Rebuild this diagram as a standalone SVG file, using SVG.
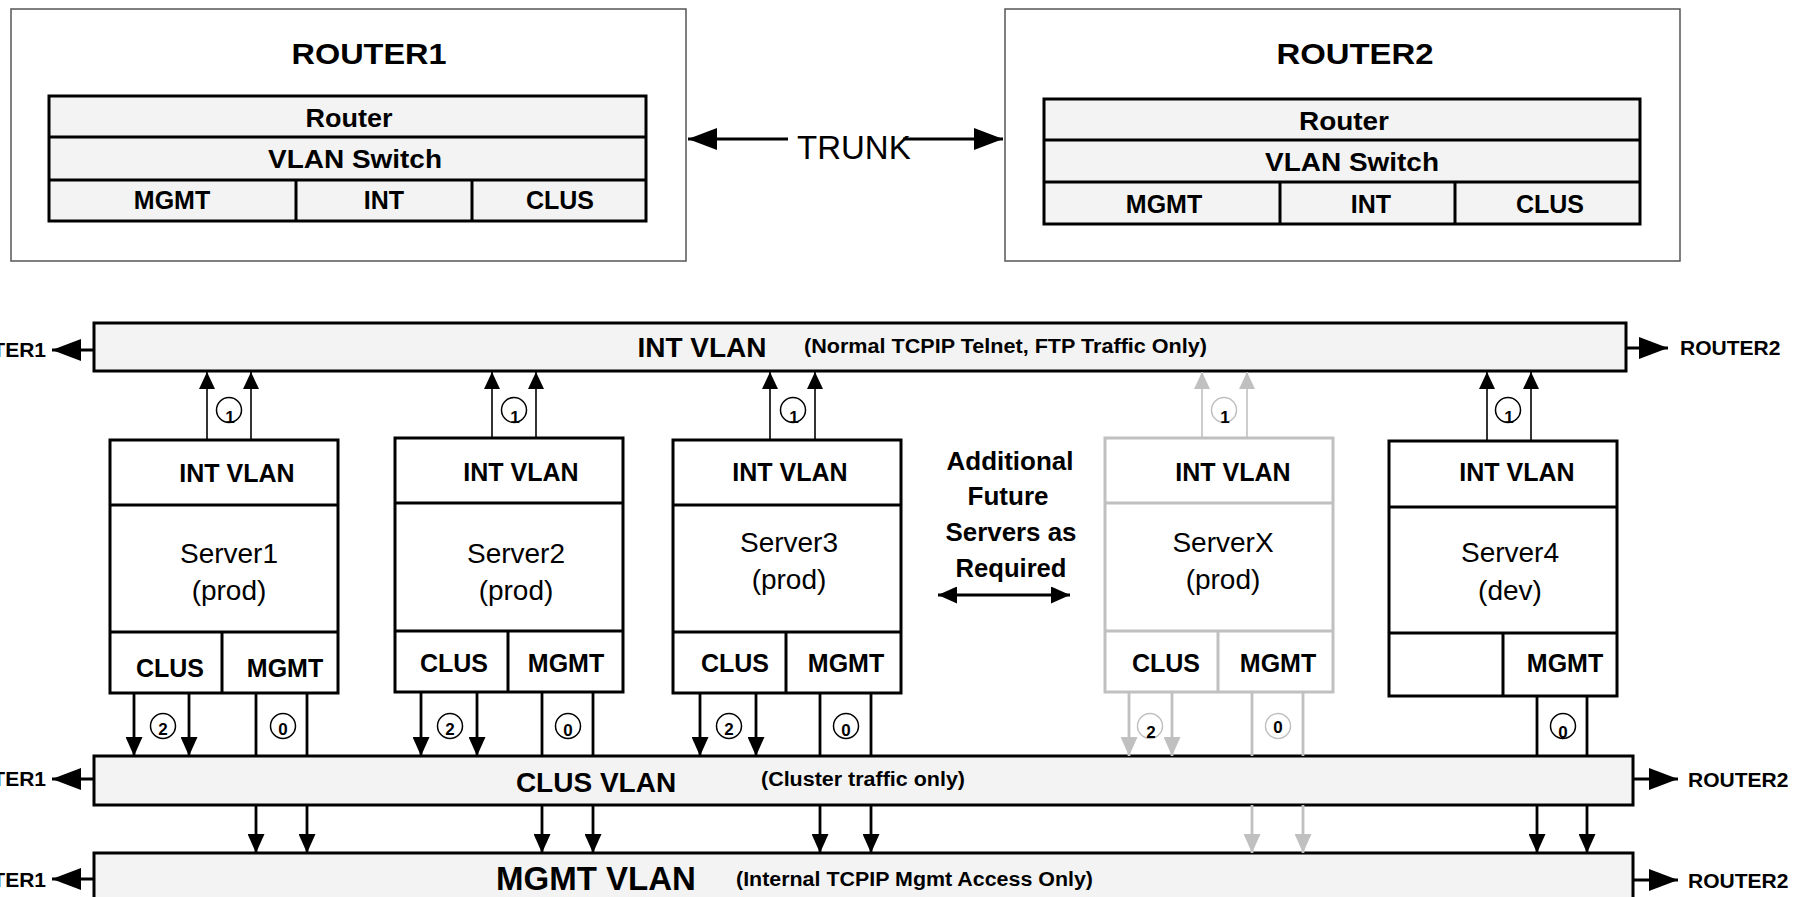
<svg xmlns="http://www.w3.org/2000/svg" width="1797" height="897" viewBox="0 0 1797 897">
<style>
  .outer{fill:#fff;stroke:#555;stroke-width:1.5}
  .tbl{fill:#f3f3f3;stroke:#000;stroke-width:3}
  .bar{fill:#f3f3f3;stroke:#000;stroke-width:3}
  .box{fill:#fff;stroke:#000;stroke-width:3}
  .gbox{fill:#fff;stroke:#c0c0c0;stroke-width:3}
  .ln{stroke:#000;stroke-width:3;fill:none}
  .gln{stroke:#c0c0c0;stroke-width:3;fill:none}
  .thin{stroke:#000;stroke-width:1.6;fill:none}
  .gthin{stroke:#c0c0c0;stroke-width:1.6;fill:none}
  .thick{stroke:#000;stroke-width:2.8;fill:none}
  .gthick{stroke:#c0c0c0;stroke-width:2.8;fill:none}
  .circ{fill:#fff;stroke:#000;stroke-width:1.5}
  .gcirc{fill:#fff;stroke:#c0c0c0;stroke-width:1.5}
  text{font-family:"Liberation Sans",Arial,sans-serif;fill:#000}
  .b{font-weight:bold;text-anchor:middle}
  .r{text-anchor:middle}
  .t25{font-size:25px}
  .t28{font-size:28px}
  .num{font-size:17px;font-weight:bold;text-anchor:middle}
  .side{font-size:21px;font-weight:bold}
  .note{font-size:20px;font-weight:bold}
</style>
<defs>
  <marker id="ahS" markerUnits="userSpaceOnUse" markerWidth="17" markerHeight="16" refX="17" refY="8" orient="auto"><path d="M0,0 L17,8 L0,16 z" fill="#000"/></marker>
  <marker id="ahSg" markerUnits="userSpaceOnUse" markerWidth="17" markerHeight="16" refX="17" refY="8" orient="auto"><path d="M0,0 L17,8 L0,16 z" fill="#c0c0c0"/></marker>
  <marker id="ahM" markerUnits="userSpaceOnUse" markerWidth="19" markerHeight="17" refX="19" refY="8.5" orient="auto"><path d="M0,0 L19,8.5 L0,17 z" fill="#000"/></marker>
  <marker id="ahMg" markerUnits="userSpaceOnUse" markerWidth="19" markerHeight="17" refX="19" refY="8.5" orient="auto"><path d="M0,0 L19,8.5 L0,17 z" fill="#c0c0c0"/></marker>
  <marker id="ahL" markerUnits="userSpaceOnUse" markerWidth="29" markerHeight="22" refX="29" refY="11" orient="auto"><path d="M0,0 L29,11 L0,22 z" fill="#000"/></marker>
</defs>

<!-- Router 1 -->
<g id="router1">
  <rect class="outer" x="11" y="9" width="675" height="252"/>
  <text class="b" x="369" y="64" font-size="30" textLength="155" lengthAdjust="spacingAndGlyphs">ROUTER1</text>
  <rect class="tbl" x="49" y="96" width="597" height="125"/>
  <line class="ln" x1="49" y1="137" x2="646" y2="137"/>
  <line class="ln" x1="49" y1="180" x2="646" y2="180"/>
  <line class="ln" x1="296" y1="180" x2="296" y2="221"/>
  <line class="ln" x1="472" y1="180" x2="472" y2="221"/>
  <text class="b t25" x="349" y="127" textLength="87" lengthAdjust="spacingAndGlyphs">Router</text>
  <text class="b t25" x="355" y="168" textLength="174" lengthAdjust="spacingAndGlyphs">VLAN Switch</text>
  <text class="b t25" x="172" y="209">MGMT</text>
  <text class="b t25" x="384" y="209">INT</text>
  <text class="b t25" x="560" y="209">CLUS</text>
</g>

<!-- Router 2 -->
<g id="router2">
  <rect class="outer" x="1005" y="9" width="675" height="252"/>
  <text class="b" x="1355" y="64" font-size="30" textLength="157" lengthAdjust="spacingAndGlyphs">ROUTER2</text>
  <rect class="tbl" x="1044" y="99" width="596" height="125"/>
  <line class="ln" x1="1044" y1="140" x2="1640" y2="140"/>
  <line class="ln" x1="1044" y1="182" x2="1640" y2="182"/>
  <line class="ln" x1="1280" y1="182" x2="1280" y2="224"/>
  <line class="ln" x1="1455" y1="182" x2="1455" y2="224"/>
  <text class="b t25" x="1344" y="130" textLength="90" lengthAdjust="spacingAndGlyphs">Router</text>
  <text class="b t25" x="1352" y="171" textLength="174" lengthAdjust="spacingAndGlyphs">VLAN Switch</text>
  <text class="b t25" x="1164" y="213">MGMT</text>
  <text class="b t25" x="1371" y="213">INT</text>
  <text class="b t25" x="1550" y="213">CLUS</text>
</g>

<!-- INT VLAN bar -->
<g id="int-vlan">
  <rect class="bar" x="94" y="323" width="1532" height="48"/>
  <text class="b" x="702" y="357" font-size="28">INT VLAN</text>
  <text class="note" x="804" y="353" textLength="403" lengthAdjust="spacingAndGlyphs">(Normal TCPIP Telnet, FTP Traffic Only)</text>
  <text class="side" x="46" y="357" text-anchor="end">ROUTER1</text>
  <text class="side" x="1680" y="355">ROUTER2</text>
</g>

<!-- CLUS VLAN bar -->
<g id="clus-vlan">
  <rect class="bar" x="94" y="756" width="1539" height="49"/>
  <text class="b" x="596" y="792" font-size="28">CLUS VLAN</text>
  <text class="note" x="761" y="786" textLength="204" lengthAdjust="spacingAndGlyphs">(Cluster traffic only)</text>
  <text class="side" x="46" y="786" text-anchor="end">ROUTER1</text>
  <text class="side" x="1688" y="787">ROUTER2</text>
</g>

<!-- MGMT VLAN bar -->
<g id="mgmt-vlan">
  <rect class="bar" x="94" y="853" width="1539" height="60"/>
  <text class="b" x="596" y="890" font-size="33">MGMT VLAN</text>
  <text class="note" x="736" y="886" textLength="357" lengthAdjust="spacingAndGlyphs">(Internal TCPIP Mgmt Access Only)</text>
  <text class="side" x="46" y="887" text-anchor="end">ROUTER1</text>
  <text class="side" x="1688" y="888">ROUTER2</text>
</g>

<!-- Servers -->
<g id="server1">
  <rect class="box" x="110" y="440" width="228" height="253"/>
  <line class="ln" x1="110" y1="505" x2="338" y2="505"/>
  <line class="ln" x1="110" y1="632" x2="338" y2="632"/>
  <line class="ln" x1="222" y1="632" x2="222" y2="693"/>
  <text class="b t25" x="237" y="482">INT VLAN</text>
  <text class="r t28" x="229" y="563">Server1</text>
  <text class="r t28" x="229" y="600">(prod)</text>
  <text class="b t25" x="170" y="677">CLUS</text>
  <text class="b t25" x="285" y="677">MGMT</text>
</g>
<g id="server2">
  <rect class="box" x="395" y="438" width="228" height="254"/>
  <line class="ln" x1="395" y1="503" x2="623" y2="503"/>
  <line class="ln" x1="395" y1="631" x2="623" y2="631"/>
  <line class="ln" x1="508" y1="631" x2="508" y2="692"/>
  <text class="b t25" x="521" y="481">INT VLAN</text>
  <text class="r t28" x="516" y="563">Server2</text>
  <text class="r t28" x="516" y="600">(prod)</text>
  <text class="b t25" x="454" y="672">CLUS</text>
  <text class="b t25" x="566" y="672">MGMT</text>
</g>
<g id="server3">
  <rect class="box" x="673" y="440" width="228" height="253"/>
  <line class="ln" x1="673" y1="505" x2="901" y2="505"/>
  <line class="ln" x1="673" y1="632" x2="901" y2="632"/>
  <line class="ln" x1="786" y1="632" x2="786" y2="693"/>
  <text class="b t25" x="790" y="481">INT VLAN</text>
  <text class="r t28" x="789" y="552">Server3</text>
  <text class="r t28" x="789" y="589">(prod)</text>
  <text class="b t25" x="735" y="672">CLUS</text>
  <text class="b t25" x="846" y="672">MGMT</text>
</g>
<g id="future-note">
  <text class="b t25" x="1010" y="470" textLength="127" lengthAdjust="spacingAndGlyphs">Additional</text>
  <text class="b t25" x="1008" y="505" textLength="81" lengthAdjust="spacingAndGlyphs">Future</text>
  <text class="b t25" x="1011" y="541" textLength="131" lengthAdjust="spacingAndGlyphs">Servers as</text>
  <text class="b t25" x="1011" y="577" textLength="111" lengthAdjust="spacingAndGlyphs">Required</text>
</g>
<g id="serverX">
  <rect class="gbox" x="1105" y="438" width="228" height="254"/>
  <line class="gln" x1="1105" y1="503" x2="1333" y2="503"/>
  <line class="gln" x1="1105" y1="631" x2="1333" y2="631"/>
  <line class="gln" x1="1218" y1="631" x2="1218" y2="692"/>
  <text class="b t25" x="1233" y="481">INT VLAN</text>
  <text class="r t28" x="1223" y="552">ServerX</text>
  <text class="r t28" x="1223" y="589">(prod)</text>
  <text class="b t25" x="1166" y="672">CLUS</text>
  <text class="b t25" x="1278" y="672">MGMT</text>
</g>
<g id="server4">
  <rect class="box" x="1389" y="441" width="228" height="255"/>
  <line class="ln" x1="1389" y1="507" x2="1617" y2="507"/>
  <line class="ln" x1="1389" y1="633" x2="1617" y2="633"/>
  <line class="ln" x1="1503" y1="633" x2="1503" y2="696"/>
  <text class="b t25" x="1517" y="481">INT VLAN</text>
  <text class="r t28" x="1510" y="562">Server4</text>
  <text class="r t28" x="1510" y="600">(dev)</text>
  <text class="b t25" x="1565" y="672">MGMT</text>
</g>

<!-- Connectors -->
<g id="connectors">
  <!-- trunk between routers -->
  <line class="ln" x1="788" y1="139" x2="688" y2="139" marker-end="url(#ahL)"/>
  <line class="ln" x1="903" y1="139" x2="1003" y2="139" marker-end="url(#ahL)"/>
  <text x="797" y="159" font-size="33">TRUNK</text>

  <!-- bar uplinks to routers -->
  <line class="ln" x1="94" y1="350" x2="52" y2="350" marker-end="url(#ahL)"/>
  <line class="ln" x1="1626" y1="348" x2="1668" y2="348" marker-end="url(#ahL)"/>
  <line class="ln" x1="94" y1="779" x2="52" y2="779" marker-end="url(#ahL)"/>
  <line class="ln" x1="1633" y1="779" x2="1678" y2="779" marker-end="url(#ahL)"/>
  <line class="ln" x1="94" y1="879" x2="52" y2="879" marker-end="url(#ahL)"/>
  <line class="ln" x1="1633" y1="880" x2="1678" y2="880" marker-end="url(#ahL)"/>

  <!-- future servers double arrow -->
  <line class="ln" x1="1004" y1="595" x2="938" y2="595" marker-end="url(#ahM)"/>
  <line class="ln" x1="1004" y1="595" x2="1070" y2="595" marker-end="url(#ahM)"/>

  <!-- INT VLAN links (1) -->
  <line class="thin" x1="207" y1="440" x2="207" y2="372" marker-end="url(#ahS)"/>
  <line class="thin" x1="251" y1="440" x2="251" y2="372" marker-end="url(#ahS)"/>
  <line class="thin" x1="492" y1="438" x2="492" y2="372" marker-end="url(#ahS)"/>
  <line class="thin" x1="536" y1="438" x2="536" y2="372" marker-end="url(#ahS)"/>
  <line class="thin" x1="770" y1="440" x2="770" y2="372" marker-end="url(#ahS)"/>
  <line class="thin" x1="815" y1="440" x2="815" y2="372" marker-end="url(#ahS)"/>
  <line class="gthin" x1="1202" y1="438" x2="1202" y2="372" marker-end="url(#ahSg)"/>
  <line class="gthin" x1="1247" y1="438" x2="1247" y2="372" marker-end="url(#ahSg)"/>
  <line class="thin" x1="1487" y1="441" x2="1487" y2="372" marker-end="url(#ahS)"/>
  <line class="thin" x1="1531" y1="441" x2="1531" y2="372" marker-end="url(#ahS)"/>

  <!-- CLUS VLAN links (2) -->
  <line class="thick" x1="134" y1="693" x2="134" y2="756" marker-end="url(#ahM)"/>
  <line class="thick" x1="189" y1="693" x2="189" y2="756" marker-end="url(#ahM)"/>
  <line class="thick" x1="421" y1="692" x2="421" y2="756" marker-end="url(#ahM)"/>
  <line class="thick" x1="477" y1="692" x2="477" y2="756" marker-end="url(#ahM)"/>
  <line class="thick" x1="700" y1="693" x2="700" y2="756" marker-end="url(#ahM)"/>
  <line class="thick" x1="756" y1="693" x2="756" y2="756" marker-end="url(#ahM)"/>
  <line class="gthick" x1="1129" y1="692" x2="1129" y2="756" marker-end="url(#ahMg)"/>
  <line class="gthick" x1="1172" y1="692" x2="1172" y2="756" marker-end="url(#ahMg)"/>

  <!-- MGMT VLAN links (0), passing the CLUS bar -->
  <line class="thick" x1="256" y1="693" x2="256" y2="756"/>
  <line class="thick" x1="307" y1="693" x2="307" y2="756"/>
  <line class="thick" x1="542" y1="692" x2="542" y2="756"/>
  <line class="thick" x1="593" y1="692" x2="593" y2="756"/>
  <line class="thick" x1="820" y1="693" x2="820" y2="756"/>
  <line class="thick" x1="871" y1="693" x2="871" y2="756"/>
  <line class="gthick" x1="1252" y1="692" x2="1252" y2="756"/>
  <line class="gthick" x1="1303" y1="692" x2="1303" y2="756"/>
  <line class="thick" x1="1537" y1="696" x2="1537" y2="756"/>
  <line class="thick" x1="1587" y1="696" x2="1587" y2="756"/>

  <line class="thick" x1="256" y1="805" x2="256" y2="853" marker-end="url(#ahM)"/>
  <line class="thick" x1="307" y1="805" x2="307" y2="853" marker-end="url(#ahM)"/>
  <line class="thick" x1="542" y1="805" x2="542" y2="853" marker-end="url(#ahM)"/>
  <line class="thick" x1="593" y1="805" x2="593" y2="853" marker-end="url(#ahM)"/>
  <line class="thick" x1="820" y1="805" x2="820" y2="853" marker-end="url(#ahM)"/>
  <line class="thick" x1="871" y1="805" x2="871" y2="853" marker-end="url(#ahM)"/>
  <line class="gthick" x1="1252" y1="805" x2="1252" y2="853" marker-end="url(#ahMg)"/>
  <line class="gthick" x1="1303" y1="805" x2="1303" y2="853" marker-end="url(#ahMg)"/>
  <line class="thick" x1="1537" y1="805" x2="1537" y2="853" marker-end="url(#ahM)"/>
  <line class="thick" x1="1587" y1="805" x2="1587" y2="853" marker-end="url(#ahM)"/>

  <!-- link count badges -->
  <circle class="circ" cx="229" cy="410" r="12.5"/><text class="num" x="230" y="423">1</text>
  <circle class="circ" cx="514" cy="410" r="12.5"/><text class="num" x="515" y="423">1</text>
  <circle class="circ" cx="793" cy="410" r="12.5"/><text class="num" x="794" y="423">1</text>
  <circle class="gcirc" cx="1224" cy="410" r="12.5"/><text class="num" x="1225" y="423">1</text>
  <circle class="circ" cx="1508" cy="410" r="12.5"/><text class="num" x="1509" y="423">1</text>

  <circle class="circ" cx="163" cy="726" r="12.5"/><text class="num" x="163" y="735">2</text>
  <circle class="circ" cx="450" cy="726" r="12.5"/><text class="num" x="450" y="735">2</text>
  <circle class="circ" cx="729" cy="726" r="12.5"/><text class="num" x="729" y="735">2</text>
  <circle class="gcirc" cx="1150" cy="726" r="12.5"/><text class="num" x="1151" y="738">2</text>

  <circle class="circ" cx="283" cy="726" r="12.5"/><text class="num" x="283" y="735">0</text>
  <circle class="circ" cx="568" cy="726" r="12.5"/><text class="num" x="568" y="736">0</text>
  <circle class="circ" cx="846" cy="726" r="12.5"/><text class="num" x="846" y="736">0</text>
  <circle class="gcirc" cx="1278" cy="726" r="12.5"/><text class="num" x="1278" y="733">0</text>
  <circle class="circ" cx="1563" cy="726" r="12.5"/><text class="num" x="1563" y="738">0</text>
</g>
</svg>
